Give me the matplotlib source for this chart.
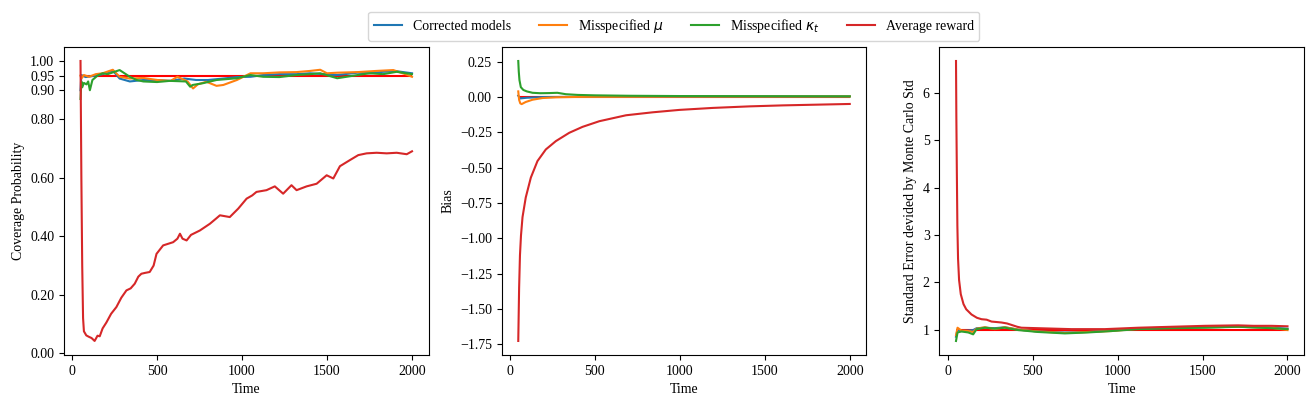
import matplotlib
matplotlib.use("Agg")
import matplotlib.pyplot as plt
from matplotlib.ticker import FormatStrFormatter

plt.rcParams['font.family'] = ['Liberation Serif', 'DejaVu Serif']
plt.rcParams['font.size'] = 10

labels = ['Corrected models', r'Misspecified $\mu$', r'Misspecified $\kappa_t$', 'Average reward']
colors = ['tab:blue', 'tab:orange', 'tab:green', 'tab:red']
reference_levels = [0.95, 0.0, 1.0]
ref_start, ref_end = 50, 2000

# ---------------- Coverage probability ----------------
cov_t_blue = [50, 55, 80, 140, 180, 240, 280, 340, 420, 500, 580, 660, 730, 800, 890, 970,
              1050, 1125, 1220, 1320, 1400, 1480, 1560, 1680, 1750, 1830, 1910, 2000]
cov_blue = [0.90, 0.952, 0.945, 0.95, 0.955, 0.967, 0.94, 0.93, 0.935, 0.935, 0.932, 0.94,
            0.935, 0.935, 0.94, 0.945, 0.946, 0.952, 0.955, 0.955, 0.958, 0.955, 0.952,
            0.96, 0.958, 0.963, 0.965, 0.958]
cov_t_orange = [50, 55, 70, 100, 140, 180, 240, 280, 340, 420, 500, 580, 620, 680, 712, 740,
                790, 850, 890, 970, 1050, 1125, 1220, 1320, 1400, 1460, 1500, 1560, 1680,
                1790, 1890, 1960, 2000]
cov_orange = [0.95, 0.94, 0.952, 0.946, 0.955, 0.958, 0.97, 0.946, 0.94, 0.942, 0.935, 0.932,
              0.946, 0.93, 0.906, 0.92, 0.929, 0.915, 0.918, 0.935, 0.958, 0.958, 0.961,
              0.962, 0.966, 0.97, 0.958, 0.96, 0.962, 0.966, 0.969, 0.955, 0.946]
cov_t_green = [50, 55, 60, 70, 85, 95, 105, 120, 150, 180, 210, 245, 280, 340, 380, 420, 500,
               575, 670, 695, 710, 770, 850, 970, 1050, 1125, 1220, 1320, 1400, 1460, 1560,
               1680, 1750, 1830, 1910, 2000]
cov_green = [0.87, 0.93, 0.91, 0.925, 0.92, 0.93, 0.90, 0.935, 0.95, 0.958, 0.955, 0.962,
             0.969, 0.946, 0.935, 0.93, 0.928, 0.932, 0.930, 0.912, 0.918, 0.924, 0.935,
             0.941, 0.952, 0.946, 0.945, 0.952, 0.955, 0.958, 0.941, 0.952, 0.958, 0.955,
             0.963, 0.955]
cov_t_red = [50, 55, 60, 65, 70, 84, 100, 115, 133, 150, 163, 180, 202, 230, 261, 290, 320,
             345, 369, 390, 408, 430, 457, 480, 497, 536, 595, 620, 635, 650, 674, 700, 752,
             811, 850, 870, 928, 978, 1027, 1060, 1085, 1144, 1193, 1242, 1291, 1321, 1380,
             1439, 1498, 1537, 1576, 1635, 1684, 1733, 1792, 1851, 1910, 1969, 2000]
cov_red = [1.0, 0.60, 0.30, 0.12, 0.075, 0.061, 0.056, 0.052, 0.042, 0.060, 0.058, 0.085,
           0.105, 0.135, 0.158, 0.19, 0.215, 0.222, 0.238, 0.262, 0.272, 0.275, 0.278, 0.30,
           0.340, 0.369, 0.380, 0.392, 0.409, 0.392, 0.386, 0.405, 0.420, 0.443, 0.462,
           0.472, 0.466, 0.495, 0.529, 0.540, 0.552, 0.558, 0.571, 0.546, 0.575, 0.558,
           0.571, 0.580, 0.609, 0.598, 0.640, 0.661, 0.678, 0.684, 0.686, 0.684, 0.686,
           0.681, 0.691]
cov_ticks = [0.0, 0.2, 0.4, 0.6, 0.8, 0.9, 0.95, 1.0]

# ---------------- Bias ----------------
bias_t_blue = [50, 60, 100, 200, 500, 1000, 2000]
bias_blue = [0.01, -0.01, -0.005, 0.0, 0.002, 0.003, 0.004]
bias_t_orange = [50, 55, 62, 70, 94, 134, 193, 271, 400, 1000, 2000]
bias_orange = [0.04, -0.02, -0.045, -0.05, -0.035, -0.019, -0.007, -0.002, 0.001, 0.003, 0.004]
bias_t_green = [50, 53, 57, 65, 80, 100, 134, 180, 232, 280, 330, 400, 500, 700, 1000, 1500, 2000]
bias_green = [0.255, 0.18, 0.12, 0.07, 0.05, 0.04, 0.03, 0.027, 0.028, 0.03, 0.02, 0.015,
              0.012, 0.009, 0.007, 0.006, 0.005]
bias_t_red = [50, 55, 60, 66, 75, 94, 124, 163, 212, 271, 350, 428, 527, 684, 841, 998,
              1194, 1411, 1607, 1804, 2000]
bias_red = [-1.726, -1.35, -1.12, -0.98, -0.85, -0.711, -0.570, -0.453, -0.371, -0.312,
            -0.253, -0.211, -0.171, -0.129, -0.108, -0.091, -0.077, -0.066, -0.059, -0.054,
            -0.049]

# ---------------- SE ratio ----------------
se_t = [50, 59, 82, 122, 151, 171, 220, 278, 337, 416, 533, 690, 827, 965, 1122, 1318,
        1514, 1710, 1906, 2000]
se_blue = [0.85, 1.0, 0.97, 0.98, 0.99, 1.03, 1.04, 1.03, 1.05, 1.0, 0.96, 0.94, 0.95, 0.98,
           1.02, 1.04, 1.05, 1.06, 1.04, 1.02]
se_orange = [0.88, 1.04, 0.98, 0.97, 0.95, 1.02, 1.05, 1.01, 1.05, 1.0, 0.96, 0.93, 0.95,
             0.97, 1.02, 1.05, 1.05, 1.06, 1.04, 0.99]
se_green = [0.76, 0.94, 0.96, 0.94, 0.90, 1.01, 1.04, 1.02, 1.04, 0.99, 0.95, 0.92, 0.94,
            0.97, 1.01, 1.03, 1.04, 1.06, 1.03, 1.01]
se_t_red = [50, 52, 55, 58, 62, 68, 78, 94, 110, 141, 173, 200, 230, 259, 290, 318, 350,
            376, 410, 435, 533, 729, 925, 1122, 1318, 1514, 1710, 1800, 1906, 2000]
se_red = [6.68, 5.5, 4.3, 3.2, 2.5, 2.05, 1.75, 1.54, 1.43, 1.32, 1.25, 1.22, 1.21, 1.17,
          1.16, 1.15, 1.13, 1.10, 1.06, 1.04, 1.03, 1.01, 1.01, 1.04, 1.06, 1.08, 1.09,
          1.08, 1.08, 1.07]

fig = plt.figure(figsize=(13.13, 4.08), dpi=100)
fig.subplots_adjust(left=0.0487, right=0.9932, bottom=0.130, top=0.8848, wspace=0.2005)
axes = fig.subplots(1, 3)

panels = [
    [(cov_t_blue, cov_blue), (cov_t_orange, cov_orange), (cov_t_green, cov_green), (cov_t_red, cov_red)],
    [(bias_t_blue, bias_blue), (bias_t_orange, bias_orange), (bias_t_green, bias_green), (bias_t_red, bias_red)],
    [(se_t, se_blue), (se_t, se_orange), (se_t, se_green), (se_t_red, se_red)],
]
ylabels = ['Coverage Probability', 'Bias', 'Standard Error devided by Monte Carlo Std']

for ax, series, ylab, lvl in zip(axes, panels, ylabels, reference_levels):
    ax.hlines(lvl, ref_start, ref_end, color='red', linewidth=1.5)
    for (t, v), c, lab in zip(series, colors, labels):
        ax.plot(t, v, color=c, label=lab, linewidth=1.5)
    ax.set_xlabel('Time')
    ax.set_ylabel(ylab)
    ax.set_xticks([0, 500, 1000, 1500, 2000])

axes[0].set_yticks(cov_ticks)
axes[0].yaxis.set_major_formatter(FormatStrFormatter('%.2f'))

handles, labs = axes[0].get_legend_handles_labels()
fig.legend(handles, labs, loc='upper center', ncol=4, bbox_to_anchor=(0.5133, 0.9713),
           borderaxespad=0.0, fontsize=10)

fig.savefig('out.png', dpi=100)
